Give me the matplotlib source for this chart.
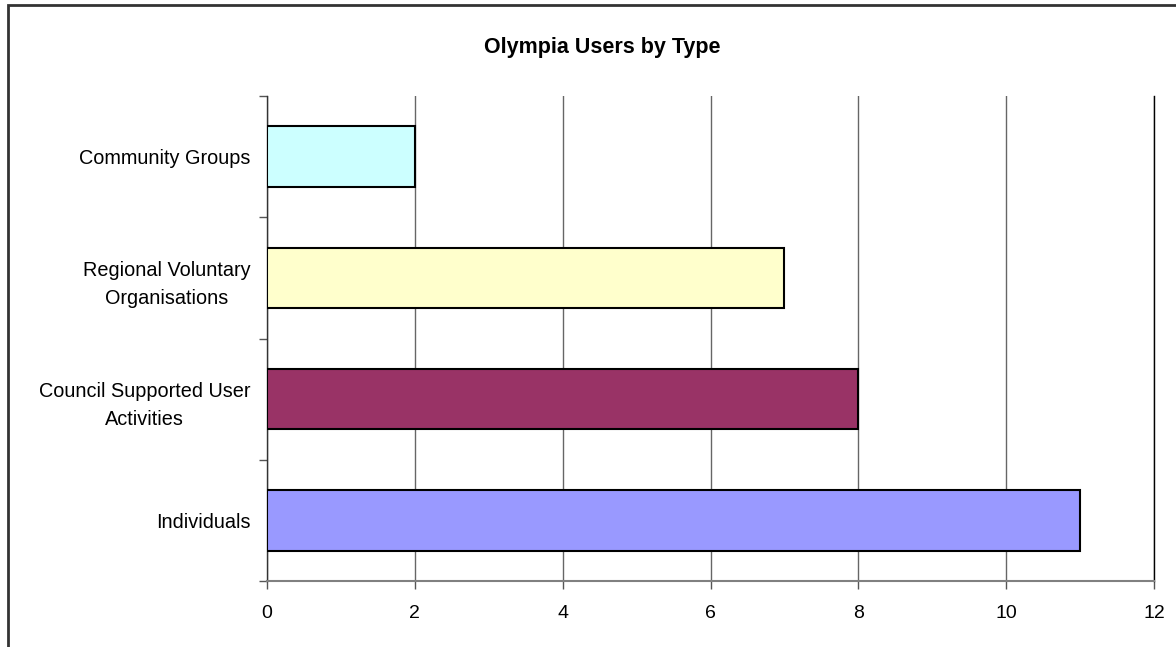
import matplotlib.pyplot as plt
from matplotlib.patches import Rectangle

# data, bottom to top as drawn
categories = ['Individuals', 'Council Supported User\nActivities',
              'Regional Voluntary\nOrganisations', 'Community Groups']
values = [11, 8, 7, 2]
colors = ['#9999FF', '#993366', '#FFFFCC', '#CCFFFF']
x_ticks = [0, 2, 4, 6, 8, 10, 12]

plt.rcParams['font.family'] = ['Liberation Sans', 'DejaVu Sans']

fig = plt.figure(figsize=(11.76, 6.47), dpi=100)
ax = fig.add_axes([267 / 1176, 1 - 581 / 647, 887 / 1176, 485 / 647])

ax.barh(range(len(categories)), values, height=0.5, color=colors,
        edgecolor='black', linewidth=1.5, zorder=3)

ax.set_xlim(0, 12)
ax.set_ylim(-0.5, len(categories) - 0.5)
ax.set_xticks(x_ticks)
ax.set_yticks(range(len(categories)))
ax.set_yticklabels(categories, multialignment='center', linespacing=1.6)
ax.set_yticks([i - 0.5 for i in range(len(categories) + 1)], minor=True)

ax.tick_params(axis='y', which='major', length=0, pad=12, labelsize=14.3)
ax.tick_params(axis='y', which='minor', length=6, width=1, color='#555555')
ax.tick_params(axis='x', length=6, width=1, color='#555555', pad=11, labelsize=14)

ax.grid(axis='x', color='#666666', linewidth=1, zorder=0)
ax.spines['top'].set_visible(False)
ax.spines['right'].set_color('black')
ax.spines['right'].set_linewidth(1)
ax.spines['left'].set_color('#333333')
ax.spines['left'].set_linewidth(1)
ax.spines['bottom'].set_color('#808080')
ax.spines['bottom'].set_linewidth(1.5)

fig.text(602 / 1176, 1 - 48 / 647, 'Olympia Users by Type', ha='center',
         va='center', fontsize=15.5, fontweight='bold')

# chart frame (right and bottom edges fall outside the picture)
fig.patches.append(Rectangle((7.5 / 1176, -0.1), 1.2, 1 - 5 / 647 + 0.1,
                             transform=fig.transFigure, fill=False,
                             edgecolor='#333333', linewidth=2))

fig.savefig('out.png', dpi=100)
